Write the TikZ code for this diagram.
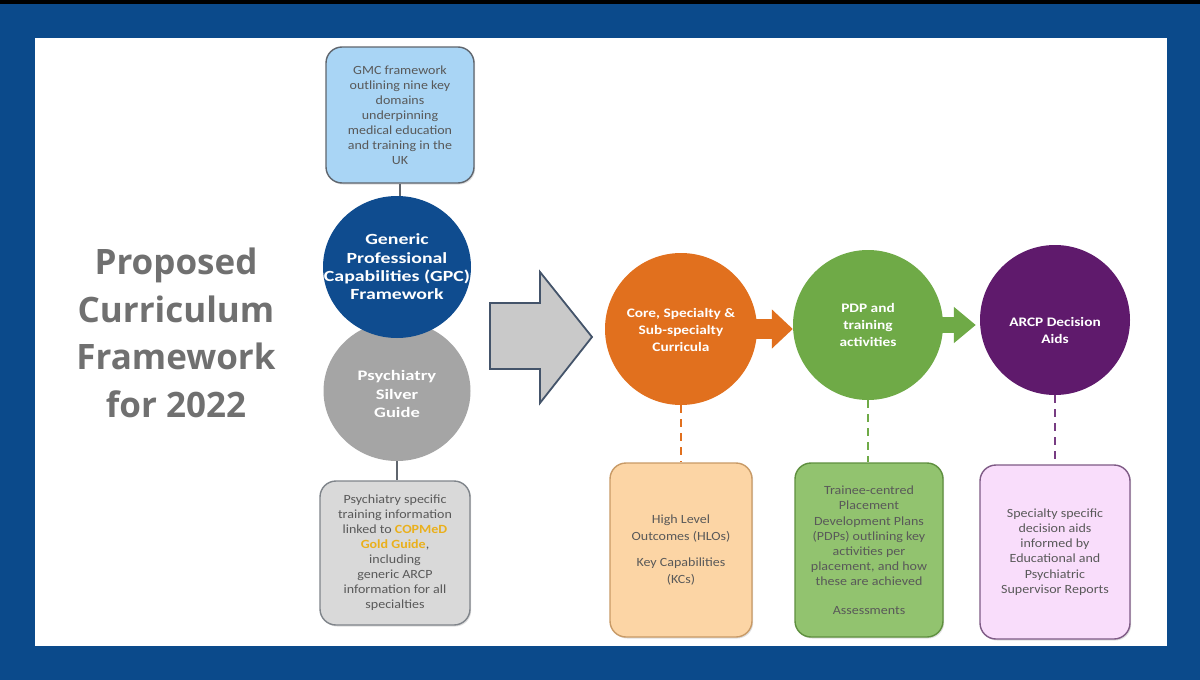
\documentclass[tikz,border=0pt]{standalone}
\usepackage{fontspec}
\setmainfont{Carlito}[FakeStretch=1.12]
\newfontfamily\circfont{Carlito}[FakeStretch=1.28]
\newfontfamily\rcircfont{Carlito}[FakeStretch=1.18]
\newfontfamily\titlefont{Open Sans}
\usetikzlibrary{shapes.geometric,shadows,arrows.meta}
\definecolor{frameblue}{HTML}{0B4A8B}
\definecolor{gmcfill}{HTML}{A9D5F5}
\definecolor{gpcblue}{HTML}{0F4C8F}
\definecolor{silvercirc}{HTML}{A5A5A5}
\definecolor{silverfill}{HTML}{D9D9D9}
\definecolor{arrowfill}{HTML}{C9C9C9}
\definecolor{arrowline}{HTML}{44546A}
\definecolor{corange}{HTML}{E1701E}
\definecolor{cgreen}{HTML}{6FAA47}
\definecolor{cpurple}{HTML}{5F1A6C}
\definecolor{ofill}{HTML}{FCD5A5}
\definecolor{oline}{HTML}{C89A66}
\definecolor{gfill}{HTML}{92C36F}
\definecolor{gline}{HTML}{5E8F3E}
\definecolor{pfill}{HTML}{F9DDFB}
\definecolor{pline}{HTML}{7E5A85}
\definecolor{txtgray}{HTML}{595959}
\definecolor{titlegray}{HTML}{707070}
\definecolor{gold}{HTML}{EAB01C}
\definecolor{boxline}{HTML}{5F656D}
\tikzset{
  infobox/.style={rectangle, rounded corners=16pt, line width=1.4pt, align=center,
    text=txtgray, font=\fontsize{12.5}{15}\selectfont, inner sep=0pt,
    drop shadow={opacity=0.25, shadow xshift=1.2pt, shadow yshift=-1.5pt}},
  bigcirc/.style={ellipse, inner sep=0pt},
  circtext/.style={align=center, text=white, inner sep=0pt,
    font=\circfont\fontsize{15.5}{18.3}\selectfont\bfseries},
  rcirctext/.style={align=center, text=white, inner sep=0pt,
    font=\rcircfont\fontsize{13}{17}\selectfont\bfseries},
  link/.style={draw=boxline, line width=2pt},
  dashlink/.style={line width=2.6pt, dash pattern=on 8pt off 6pt},
}
\begin{document}
\begin{tikzpicture}[x=1pt,y=-1pt]
\useasboundingbox (0,0) rectangle (1200,680);
% frame
\fill[frameblue] (0,0) rectangle (1200,680);
\fill[black] (0,0) rectangle (1200,4);
\fill[white] (35,38) rectangle (1167,646);

% title
\node[align=center, text=titlegray, font=\titlefont\bfseries\fontsize{35}{47.5}\selectfont] (title) at (176,333)
  {Proposed\\Curriculum\\Framework\\for 2022};

% left column
\node[infobox, draw=boxline, fill=gmcfill, minimum width=148pt, minimum height=136pt] (gmc) at (400,115)
  {GMC framework\\outlining nine key\\domains\\underpinning\\medical education\\and training in the\\UK};
\node[bigcirc, fill=silvercirc, minimum width=147pt, minimum height=140pt] (silver) at (397,391) {};
\node[bigcirc, fill=gpcblue, minimum width=148pt, minimum height=142pt] (gpc) at (397,267) {};
\node[circtext] (gpctxt) at (gpc.center) {Generic\\Professional\\Capabilities (GPC)\\Framework};
\node[circtext, font=\circfont\fontsize{14.5}{18.3}\selectfont\bfseries] (silvertxt) at (397,394) {Psychiatry\\Silver\\Guide};
\node[infobox, draw=boxline!80, fill=silverfill, minimum width=150pt, minimum height=144pt] (silverbox) at (395,553)
  {Psychiatry specific\\training information\\linked to \textcolor{gold}{\bfseries COPMeD}\\\textcolor{gold}{\bfseries Gold Guide},\\including\\generic ARCP\\information for all\\specialties};
\draw[link] (gmc.south) -- (gmc.south |- gpc.north);
\draw[link] (silver.south) -- (silver.south |- silverbox.north);

% big arrow
\coordinate (bigarrow) at (541,337);
\draw[draw=arrowline, fill=arrowfill, line width=1.8pt, line join=miter]
  (490,303) -- (540,303) -- (540,272) -- (592,337) -- (540,403) -- (540,369) -- (490,369) -- cycle;

% circles
\node[bigcirc, fill=corange, minimum size=152pt] (oc) at (681,329) {};
\node[rcirctext] (octxt) at ([yshift=-1pt]oc.center) {Core, Specialty \&\\Sub-specialty\\Curricula};
\node[bigcirc, fill=cgreen, minimum size=150pt] (gc) at (868,325) {};
\node[rcirctext] (gctxt) at (gc.center) {PDP and\\training\\activities};
\node[bigcirc, fill=cpurple, minimum size=150pt] (pc) at (1055,320) {};
\node[rcirctext] (pctxt) at ([yshift=-10pt]pc.center) {ARCP Decision\\Aids};

% block arrows
\draw[corange, line width=20pt, -{Triangle[width=38pt,length=21pt]}] ([xshift=-4pt]oc.east) -- (oc.east -| gc.west);
\draw[cgreen, line width=16pt, -{Triangle[width=35pt,length=22pt]}] ([xshift=-4pt]gc.east) -- ([xshift=-4pt]gc.east -| pc.west);

% bottom boxes
\node[infobox, draw=oline, fill=ofill, minimum width=142pt, minimum height=174pt,
  font=\fontsize{12.5}{16.5}\selectfont] (obox) at (681,550)
  {High Level\\Outcomes (HLOs)\\[10pt]Key Capabilities\\(KCs)};
\node[infobox, draw=gline, fill=gfill, minimum width=148pt, minimum height=174pt,
  font=\fontsize{12.5}{15.2}\selectfont] (gbox) at (869,550)
  {Trainee-centred\\Placement\\Development Plans\\(PDPs) outlining key\\activities per\\placement, and how\\these are achieved\\[13pt]Assessments};
\node[infobox, draw=pline, fill=pfill, minimum width=150pt, minimum height=174pt,
  font=\fontsize{12.5}{15.2}\selectfont] (pbox) at (1055,552)
  {Specialty specific\\decision aids\\informed by\\Educational and\\Psychiatric\\Supervisor Reports};

% dashed links
\draw[dashlink, draw=corange] (oc.south) -- (oc.south |- obox.north);
\draw[dashlink, draw=cgreen] (gc.south) -- (gc.south |- gbox.north);
\draw[dashlink, draw=cpurple!85] (pc.south) -- (pc.south |- pbox.north);
\end{tikzpicture}
\end{document}
